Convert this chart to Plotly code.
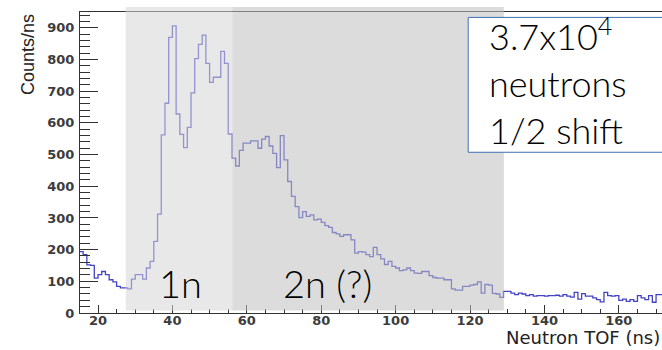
import plotly.graph_objects as go

# ---- data ----
bin_start = 15          # ns, lower edge of first bin
bin_width = 1           # ns
counts = [
    194, 184, 152, 150, 110, 121, 131, 121, 105, 98,      # 15-24
    84, 79, 79, 76, 107, 121, 121, 107, 142, 163,         # 25-34
    226, 312, 562, 662, 870, 906, 628, 564, 522, 586,     # 35-44
    695, 803, 848, 877, 788, 728, 744, 744, 826, 788,     # 45-54
    565, 489, 464, 513, 536, 536, 543, 543, 520, 549,     # 55-64
    557, 527, 504, 459, 560, 483, 415, 368, 336, 301,     # 65-74
    320, 305, 310, 294, 296, 286, 276, 270, 254, 250,     # 75-84
    242, 247, 247, 231, 189, 194, 192, 184, 178, 207,     # 85-94
    184, 171, 153, 163, 147, 142, 134, 136, 142, 134,     # 95-104
    126, 125, 131, 131, 118, 112, 110, 110, 105, 105,     # 105-114
    76, 72, 72, 84, 84, 88, 90, 98, 63, 90,               # 115-124
    88, 62, 60, 49, 68, 68, 63, 58, 63, 60,               # 125-134
    55, 58, 53, 55, 55, 53, 55, 55, 56, 53,               # 135-144
    58, 53, 50, 65, 44, 61, 53, 53, 48, 42,               # 145-154
    35, 65, 55, 53, 55, 40, 44, 37, 42, 37,               # 155-164
    55, 48, 42, 55, 34, 58, 58,                           # 165-171
]
region_1n = (27.45, 56.1)
region_2n = (56.1, 129.1)
x_ticks = [20, 40, 60, 80, 100, 120, 140, 160]
y_ticks = [0, 100, 200, 300, 400, 500, 600, 700, 800, 900]
x_title = "Neutron TOF (ns)"
y_title = "Counts/ns"
label_1n = "1n"
label_2n = "2n (?)"
box_lines = ["3.7x10<sup>4</sup>", "neutrons", "1/2 shift"]

# ---- build step histogram ----
edges = [bin_start + i * bin_width for i in range(len(counts) + 1)]
ys = counts + [counts[-1]]

fig = go.Figure()
fig.add_trace(go.Scatter(
    x=edges, y=ys, mode="lines", line=dict(color="#4343c6", width=1.3, shape="hv"),
    hoverinfo="skip", showlegend=False,
))

axis_col = "#333333"
tick_font = dict(family="DejaVu Sans", size=13, color="#3c3c3c", weight="bold")

fig.update_layout(
    width=662, height=350,
    margin=dict(l=80, r=0, t=12, b=37),
    paper_bgcolor="white", plot_bgcolor="white",
    xaxis=dict(
        range=[15.16, 171.6], tickvals=x_ticks, ticks="inside", ticklen=8, tickwidth=1,
        tickcolor=axis_col, showline=True, linecolor=axis_col, linewidth=1, mirror=True,
        showgrid=False, zeroline=False, tickfont=tick_font, ticklabelstandoff=-5,
        minor=dict(dtick=5, ticks="inside", ticklen=4, tickcolor=axis_col, showgrid=False),
    ),
    yaxis=dict(
        range=[0, 950], tickvals=y_ticks, ticks="inside", ticklen=18, tickwidth=1,
        tickcolor=axis_col, showline=True, linecolor=axis_col, linewidth=1,
        showgrid=False, zeroline=False, tickfont=tick_font, ticklabelstandoff=2,
        minor=dict(dtick=20, ticks="inside", ticklen=10, tickcolor=axis_col, showgrid=False),
    ),
)

# shaded regions (semi-transparent, over the histogram)
fig.add_shape(type="rect", xref="x", yref="paper", x0=region_1n[0], x1=region_1n[1],
              y0=0.008, y1=1.017, fillcolor="#d5d5d5", opacity=0.55, line_width=0, layer="above")
fig.add_shape(type="rect", xref="x", yref="paper", x0=region_2n[0], x1=region_2n[1],
              y0=0.008, y1=1.017, fillcolor="#bfbfbf", opacity=0.55, line_width=0, layer="above")

# info box
fig.add_shape(type="rect", xref="paper", yref="paper", x0=0.667, x1=1.02, y0=0.534, y1=0.982,
              fillcolor="white", line=dict(color="#3f6fb5", width=1), layer="above")

label_font = dict(family="Lato", size=38, color="black", weight=300)
fig.add_annotation(x=42.2, y=95, xref="x", yref="y", text=label_1n, showarrow=False,
                   font=label_font, xanchor="center", yanchor="middle")
fig.add_annotation(x=81.6, y=95, xref="x", yref="y", text=label_2n, showarrow=False,
                   font=label_font, xanchor="center", yanchor="middle")

fig.add_annotation(x=0.699, y=0.772, xref="paper", yref="paper", text="<br>".join(box_lines),
                   showarrow=False, align="left", xanchor="left", yanchor="middle",
                   font=dict(family="Lato", size=36, color="black", weight=300))

fig.add_annotation(x=-0.09, y=1.0, xref="paper", yref="paper", text=y_title, textangle=-90,
                   showarrow=False, xanchor="center", yanchor="top",
                   font=dict(family="Liberation Sans", size=18, color="#222222"))
fig.add_annotation(x=1.0, y=-0.1229, xref="paper", yref="paper", text=x_title,
                   showarrow=False, xanchor="right", yanchor="bottom",
                   font=dict(family="DejaVu Sans", size=18, color="#222222"))

fig.write_html("out.html")
